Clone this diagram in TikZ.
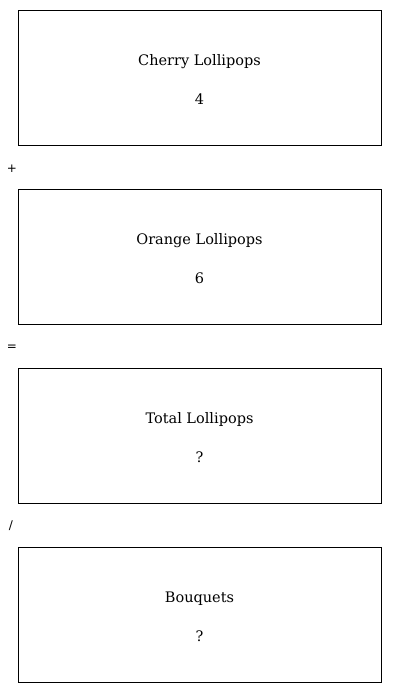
\documentclass[tikz,border=0pt]{standalone}
\usepackage{fontspec}
\setmainfont{DejaVu Serif}
\newfontfamily\opfont{DejaVu Sans}
\usetikzlibrary{positioning}

\newcommand{\topstrut}{\rule{0pt}{15pt}}

\tikzset{
  qbox/.style={draw,semithick,minimum width=363pt,minimum height=135pt,
    align=center,font=\fontsize{14.5}{17}\selectfont,inner sep=0pt},
  opsign/.style={font=\opfont\fontsize{12}{14}\selectfont,inner sep=0pt}
}

\begin{document}
\begin{tikzpicture}[x=1pt,y=-1pt]
        \def\gap{43.4pt} % 箱の間隔

        % 余白
        \useasboundingbox (0,0) rectangle (400,693);

        % 箱
        \node[qbox] (cherry) at (199.5,77.5) {\topstrut Cherry Lollipops\\[22pt]4};
        \node[qbox,below=\gap of cherry] (orange) {\topstrut Orange Lollipops\\[22pt]6};
        \node[qbox,below=\gap of orange] (total) {\topstrut Total Lollipops\\[22pt]?};
        \node[qbox,below=\gap of total] (bouquets) {\topstrut Bouquets\\[22pt]?};

        % 演算子
        \node[opsign] (plus) at (12,169) {+};
        \node[opsign] (equals) at (12,348) {=};
        \node[opsign] (divide) at (11,526) {/};
      \end{tikzpicture}
\end{document}
